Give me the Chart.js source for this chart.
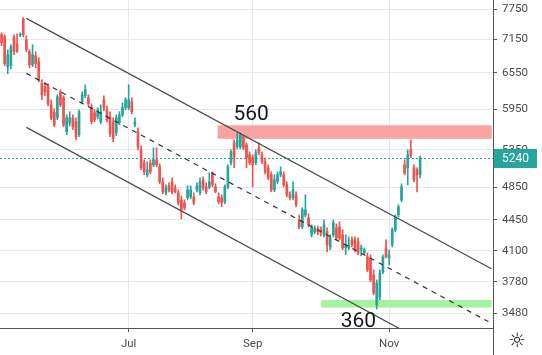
<!DOCTYPE html>
<html><head><meta charset="utf-8">
<script src="https://cdn.jsdelivr.net/npm/chart.js@4.4.1/dist/chart.umd.min.js"></script>
<style>html,body{margin:0;padding:0;background:#fff;overflow:hidden}canvas{display:block}</style>
</head><body>
<canvas id="c" width="542" height="355"></canvas>
<script>
// ---- data ----
const slotCount = 159;
const categories = Array.from({length: slotCount}, (_, i) => String(i));
const opens = [
7243,7205,6658,6675,7205,7074,7233,7555,7148,6926,
6693,6853,6746,6366,6316,6332,6023,5903,5821,6233,
6136,5610,5744,5821,5759,5566,6071,6168,6136,5992,
5898,5836,5759,6103,5945,5836,5759,5595,5744,5867,
5976,5976,6071,5714,5610,5350,5170,5009,5170,5143,
5211,5116,4918,4777,4866,4918,4841,4777,4690,4653,
4715,4727,4727,4815,4777,4944,4853,4853,5036,4853,
4727,4715,4665,4853,5170,5450,5392,5392,5522,5421,
5280,5239,5170,5378,5280,5184,5103,5009,4815,4918,
5009,5009,4879,4752,4715,4752,4449,4368,4508,4473,
4277,4311,4345,4334,4277,4311,4144,4277,4356,4368,
4277,4133,4133,4221,4221,4199,4111,4079,4036,4025,
3849,3557,3633,3880,4133,4025,4166,4334,4508,4690,
5143,5103,5350,5103,5076,5009];
const highs = [
7281,7243,6962,7055,7243,7262,7281,7574,7224,6962,
7055,6926,6817,6433,6383,6366,6103,5961,6184,6266,
6168,5867,5914,5867,5821,5945,6233,6349,6184,6039,
5945,5976,6023,6168,6007,5914,5821,5867,5914,6055,
6136,6349,6136,5821,5669,5407,5211,5184,5211,5378,
5378,5157,4970,4879,4905,4970,4879,4815,4740,4690,
4866,4866,4777,4905,4970,4983,4905,5036,5049,4892,
4777,4752,4879,5143,5350,5493,5595,5595,5551,5450,
5322,5280,5350,5450,5322,5239,5143,5049,5009,5049,
5116,5049,4918,4790,4918,4790,4508,4592,4752,4520,
4391,4379,4379,4368,4449,4356,4277,4449,4402,4426,
4334,4277,4254,4254,4254,4243,4166,4133,4079,4058,
3900,3799,3900,4058,4221,4111,4356,4508,4629,4892,
5211,5350,5493,5143,5103,5266];
const lows = [
7036,6675,6536,6623,6871,6907,7205,7205,6926,6640,
6658,6640,6399,6103,6168,6007,5790,5684,5790,5992,
5684,5566,5699,5640,5493,5537,6039,6136,6007,5729,
5759,5805,5729,5929,5759,5537,5464,5551,5714,5836,
5945,5945,5883,5684,5350,5076,5009,4983,5022,5116,
5116,4892,4765,4752,4790,4765,4777,4629,4461,4568,
4690,4702,4629,4790,4752,4815,4765,4828,4853,4777,
4641,4604,4641,4828,5143,5103,5364,5364,5350,5103,
5143,4853,5143,5280,5157,5022,4944,4790,4790,4892,
4983,4853,4727,4690,4690,4604,4345,4345,4484,4368,
4254,4288,4277,4266,4254,4090,4111,4254,4221,4221,
4111,4058,4111,4144,4090,4058,4047,4058,3880,3779,
3652,3519,3604,3859,4025,3952,4144,4311,4484,4665,
5009,4879,5239,4918,4790,4970];
const closes = [
7092,6711,6871,7018,6926,6944,7253,7243,6962,6693,
6871,6711,6433,6184,6233,6039,5821,5714,6152,6023,
5714,5821,5821,5684,5537,5914,6184,6266,6039,5759,
5790,5945,5914,5976,5790,5581,5508,5821,5867,5976,
6103,6103,5914,5759,5392,5103,5049,5076,5049,5211,
5143,4918,4790,4841,4815,4790,4790,4653,4568,4592,
4815,4815,4653,4866,4918,4841,4790,4918,4879,4790,
4665,4653,4853,5116,5322,5252,5493,5566,5378,5239,
5170,5143,5308,5308,5184,5049,4970,4815,4944,5009,
5049,4879,4752,4715,4815,4629,4368,4568,4568,4391,
4356,4356,4311,4299,4391,4166,4243,4414,4243,4243,
4133,4166,4166,4166,4111,4079,4133,4111,3900,3799,
3671,3769,3869,4036,4036,4058,4334,4484,4604,4853,
5036,5280,5266,4944,5009,5240];

const monthTicks = ['Jul', 'Sep', 'Nov'];
const monthTickIndex = [41, 81, 125];
const priceTicks = [3480, 3780, 4100, 4450, 4850, 5350, 5950, 6550, 7150, 7750];
const priceMin = 3347, priceMax = 7936;

// channel lines: [index, price] endpoints
const upperChannel = [[8, 7561], [158, 3911]];
const middleChannel = [[8, 6542], [157, 3404]];
const lowerChannel = [[8, 5675], [158, 2933]];

// zones: [fromIndex, toIndex, lowPrice, highPrice]
const resistanceZone = [69.7, 158.1, 5507, 5707];
const supportZone = [103.1, 158.1, 3532, 3604];

// text notes: [text, index, price]
const notes = [['560', 80.5, 5860], ['360', 115.1, 3405]];

// ---- chart ----
const upColor = '#26a69a', downColor = '#ef5350';
const candleColor = ctx => closes[ctx.dataIndex] >= opens[ctx.dataIndex] ? upColor : downColor;
const toPoints = arr => arr.map(p => ({x: categories[p[0]], y: p[1]}));

const overlayPlugin = {
  id: 'overlay',
  beforeDatasetsDraw(chart) {
    const {ctx, chartArea: a, scales: {x, y}} = chart;
    ctx.save();
    ctx.beginPath(); ctx.rect(a.left, a.top, a.width, a.height); ctx.clip();
    [[resistanceZone, '#faa3a3'], [supportZone, '#a3f3a0']].forEach(([z, col]) => {
      const x0 = x.getPixelForValue(z[0]), x1 = x.getPixelForValue(z[1]);
      const y0 = y.getPixelForValue(z[3]), y1 = y.getPixelForValue(z[2]);
      ctx.fillStyle = col;
      ctx.fillRect(x0, y0, x1 - x0, y1 - y0);
    });
    const py = Math.round(y.getPixelForValue(closes[closes.length - 1])) + 0.5;
    ctx.strokeStyle = upColor; ctx.lineWidth = 1; ctx.setLineDash([2, 2]);
    ctx.beginPath(); ctx.moveTo(a.left, py); ctx.lineTo(a.right, py); ctx.stroke();
    ctx.restore();
  },
  afterDatasetsDraw(chart) {
    const {ctx, chartArea: a, scales: {x, y}} = chart;
    ctx.save();
    ctx.beginPath(); ctx.rect(a.left, a.top, a.width, a.height); ctx.clip();
    ctx.fillStyle = '#131722';
    ctx.font = '21px Roboto, "Liberation Sans", sans-serif';
    ctx.textAlign = 'center'; ctx.textBaseline = 'middle';
    notes.forEach(n => ctx.fillText(n[0], x.getPixelForValue(n[1]), y.getPixelForValue(n[2])));
    ctx.restore();
  },
  afterDraw(chart) {
    const {ctx, chartArea: a, scales: {y}} = chart;
    ctx.save();
    ctx.strokeStyle = '#555'; ctx.lineWidth = 1;
    ctx.beginPath(); ctx.moveTo(a.right + 0.5, a.bottom); ctx.lineTo(a.right + 0.5, chart.height); ctx.stroke();
    const last = closes[closes.length - 1];
    const py = Math.round(y.getPixelForValue(last));
    ctx.fillStyle = upColor;
    ctx.fillRect(a.right + 1, py - 9, 43, 19);
    ctx.fillStyle = '#fff';
    ctx.font = '12px Roboto, "Liberation Sans", sans-serif';
    ctx.textAlign = 'center'; ctx.textBaseline = 'middle';
    ctx.fillText(String(last), a.right + 22.5, py + 1);
    ctx.fillStyle = '#131722';
    ctx.font = '20px "DejaVu Sans"';
    ctx.fillText('\u263C', a.right + 24, a.bottom + 14);
    ctx.restore();
  }
};

new Chart(document.getElementById('c'), {
  type: 'bar',
  data: {
    labels: categories,
    datasets: [
      {type: 'line', data: toPoints(upperChannel), borderColor: '#4a4a4a', borderWidth: 1.2, pointRadius: 0, order: -1},
      {type: 'line', data: toPoints(middleChannel), borderColor: '#333', borderWidth: 1.2, borderDash: [5, 5], pointRadius: 0, order: -1},
      {type: 'line', data: toPoints(lowerChannel), borderColor: '#4a4a4a', borderWidth: 1.2, pointRadius: 0, order: -1},
      {data: opens.map((o, i) => [o, closes[i]]), backgroundColor: candleColor, barThickness: 2, minBarLength: 1, grouped: false, order: 0},
      {data: lows.map((l, i) => [l, highs[i]]), backgroundColor: candleColor, barThickness: 1, grouped: false, order: 1}
    ]
  },
  options: {
    responsive: false, animation: false, devicePixelRatio: 1,
    layout: {padding: 0},
    plugins: {legend: {display: false}, tooltip: {enabled: false}},
    scales: {
      x: {
        type: 'category', offset: true,
        grid: {
          offset: false, drawOnChartArea: true, tickLength: 4,
          color: c => monthTickIndex.includes(c.index) ? '#e3e6ec' : 'transparent',
          tickColor: c => monthTickIndex.includes(c.index) ? '#555' : 'transparent'
        },
        border: {display: true, color: '#555'},
        ticks: {
          autoSkip: false, maxRotation: 0, padding: 5, color: '#4a4a4a',
          font: {family: 'Roboto', size: 11.5},
          callback: (v, i) => { const k = monthTickIndex.indexOf(i); return k >= 0 ? monthTicks[k] : ''; }
        },
        afterFit: s => { s.height = 27; s.paddingLeft = 0; s.paddingRight = 0; }
      },
      y: {
        type: 'logarithmic', position: 'right', min: priceMin, max: priceMax,
        grid: {color: '#e6e8ee', tickColor: '#555', tickLength: 4},
        border: {display: true, color: '#555'},
        ticks: {autoSkip: false, padding: 5, color: '#4a4a4a', font: {family: 'Roboto', size: 11.5}, callback: v => String(v)},
        afterBuildTicks: s => { s.ticks = priceTicks.map(v => ({value: v})); },
        afterFit: s => { s.width = 49; s.paddingTop = 0; s.paddingBottom = 0; }
      }
    }
  },
  plugins: [overlayPlugin]
});
</script>
</body></html>
